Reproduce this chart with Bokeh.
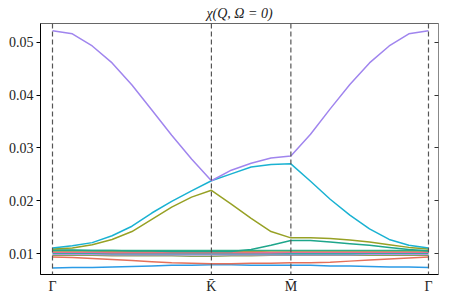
import numpy as np
from bokeh.plotting import figure
from bokeh.models import Range1d, FixedTicker, LinearAxis, Span, PrintfTickFormatter
from bokeh.embed import file_html
from bokeh.resources import INLINE

# High-symmetry path
hs_labels = ["Γ", "K̄", "M̄", "Γ"]
seg_lengths = [1.0, 0.5, 0.866]
seg_steps = [8, 4, 7]

hs_pos = [0.0]
for L in seg_lengths:
    hs_pos.append(hs_pos[-1] + L)
kpts = [0.0]
for i, (L, n) in enumerate(zip(seg_lengths, seg_steps)):
    kpts += list(np.linspace(hs_pos[i], hs_pos[i + 1], n + 1)[1:])

# Bands (values along path)
band_purple = [0.0522, 0.0516, 0.0493, 0.0461, 0.0419, 0.0372, 0.0324, 0.0279, 0.0238,
               0.0258, 0.0271, 0.0281, 0.0285,
               0.0326, 0.0374, 0.0420, 0.0461, 0.0493, 0.0516, 0.0522]
band_cyan = [0.0111, 0.0115, 0.0121, 0.0134, 0.0152, 0.0177, 0.0199, 0.0219, 0.0238,
             0.0251, 0.0264, 0.0269, 0.0270,
             0.0237, 0.0203, 0.0173, 0.0147, 0.0127, 0.0116, 0.0111]
band_olive = [0.0109, 0.0111, 0.0117, 0.0127, 0.0142, 0.0165, 0.0188, 0.0207, 0.0220,
              0.0194, 0.0167, 0.0142, 0.0130,
              0.0130, 0.0129, 0.0126, 0.0122, 0.0117, 0.0112, 0.0109]
band_teal = [0.0107, 0.0107, 0.0106, 0.0106, 0.0105, 0.0105, 0.0104, 0.0104, 0.0104,
             0.0104, 0.0108, 0.0116, 0.0125,
             0.0125, 0.0122, 0.0119, 0.0116, 0.0112, 0.0108, 0.0105]
band_green = [0.0106, 0.0106, 0.0106, 0.0106, 0.0106, 0.0106, 0.0106, 0.0106, 0.0106,
              0.0106, 0.0106, 0.0106, 0.0106,
              0.0106, 0.0106, 0.0106, 0.0106, 0.0106, 0.0106, 0.0106]
band_orange = [0.0105, 0.0105, 0.0105, 0.0104, 0.0104, 0.0104, 0.0104, 0.0104, 0.0104,
               0.0104, 0.0104, 0.0105, 0.0105,
               0.0105, 0.0105, 0.0105, 0.0105, 0.0105, 0.0105, 0.0105]
band_pink = [0.0103, 0.0103, 0.0103, 0.0102, 0.0102, 0.0102, 0.0102, 0.0102, 0.0102,
             0.0102, 0.0102, 0.0102, 0.0103,
             0.0103, 0.0103, 0.0103, 0.0103, 0.0103, 0.0103, 0.0103]
band_aqua = [0.0101, 0.0101, 0.0101, 0.0100, 0.0100, 0.0100, 0.0100, 0.0100, 0.0100,
             0.0100, 0.0100, 0.0100, 0.0100,
             0.0100, 0.0100, 0.0100, 0.0101, 0.0101, 0.0101, 0.0101]
band_lavender = [0.0099, 0.0099, 0.0099, 0.0098, 0.0098, 0.0098, 0.0098, 0.0098, 0.0098,
                 0.0098, 0.0098, 0.0098, 0.0098,
                 0.0098, 0.0098, 0.0098, 0.0099, 0.0099, 0.0099, 0.0099]
band_sage = [0.0097, 0.0097, 0.0097, 0.0096, 0.0096, 0.0096, 0.0096, 0.0095, 0.0095,
             0.0096, 0.0096, 0.0097, 0.0097,
             0.0097, 0.0097, 0.0097, 0.0097, 0.0097, 0.0097, 0.0097]
band_red = [0.0094, 0.0093, 0.0091, 0.0089, 0.0087, 0.0085, 0.0083, 0.0082, 0.0081,
            0.0081, 0.0082, 0.0082, 0.0083,
            0.0083, 0.0084, 0.0086, 0.0088, 0.0090, 0.0092, 0.0094]
band_blue = [0.0073, 0.0074, 0.0074, 0.0075, 0.0076, 0.0077, 0.0078, 0.0078, 0.0079,
             0.0079, 0.0078, 0.0078, 0.0078,
             0.0078, 0.0077, 0.0077, 0.0076, 0.0075, 0.0075, 0.0074]

bands = [band_blue, band_red, band_sage, band_lavender, band_aqua, band_pink,
         band_orange, band_green, band_teal, band_olive, band_cyan, band_purple]
band_colors = ["#2b9be6", "#e4705a", "#8aa05a", "#b690e6", "#36aaa8", "#ee6a96",
               "#e08a3a", "#2fae86", "#1ea68b", "#97a125", "#1ab2d2", "#a085ee"]

y_ticks = [0.01, 0.02, 0.03, 0.04, 0.05]

FONT = "'Liberation Serif', serif"

p = figure(frame_width=398, frame_height=251,
           x_range=Range1d(-0.0755, 2.429), y_range=Range1d(0.00607, 0.05355),
           output_backend="svg", toolbar_location=None,
           min_border_left=40, min_border_right=3, min_border_top=23, min_border_bottom=0)

p.title.text = "χ(Q, Ω = 0)"
p.title.align = "center"
p.title.text_font = FONT
p.title.text_font_style = "italic"
p.title.text_font_size = "14px"
p.title.text_color = "#222222"
p.title.standoff = 5

p.xgrid.visible = False
p.ygrid.visible = False
p.outline_line_color = "#666666"
p.outline_line_width = 1
p.background_fill_color = "white"
p.border_fill_color = "white"

for loc in hs_pos:
    p.add_layout(Span(location=loc, dimension="height", line_color="#555555",
                      line_width=1.2, line_dash="5 3"))

for vals, col in zip(bands, band_colors):
    p.line(kpts, vals, line_color=col, line_width=1.5)

xa = p.xaxis[0]
xa.ticker = FixedTicker(ticks=hs_pos, minor_ticks=[])
xa.major_label_overrides = {pos: lab for pos, lab in zip(hs_pos, hs_labels)}
xa.major_tick_out = 0
xa.major_tick_in = 0
xa.minor_tick_out = 0
xa.minor_tick_in = 0
xa.major_label_standoff = 4
xa.major_label_text_font = FONT
xa.major_label_text_font_size = "14px"
xa.major_label_text_color = "#222222"
xa.axis_line_color = "black"

ya = p.yaxis[0]
ya.ticker = FixedTicker(ticks=y_ticks, minor_ticks=[])
ya.formatter = PrintfTickFormatter(format="%.2f")
ya.major_tick_out = 4
ya.major_tick_in = 0
ya.minor_tick_out = 0
ya.minor_tick_in = 0
ya.major_label_standoff = 3
ya.major_label_text_font = FONT
ya.major_label_text_font_size = "14px"
ya.major_label_text_color = "#222222"
ya.axis_line_color = "black"

ra = LinearAxis(ticker=FixedTicker(ticks=y_ticks, minor_ticks=[]),
                major_tick_in=4, major_tick_out=0, minor_tick_in=0, minor_tick_out=0,
                major_label_overrides={t: "" for t in y_ticks}, major_label_standoff=0,
                axis_line_color="#888888", major_tick_line_color="#333333")
p.add_layout(ra, "right")

open("out.html", "w").write(file_html(p, INLINE))
